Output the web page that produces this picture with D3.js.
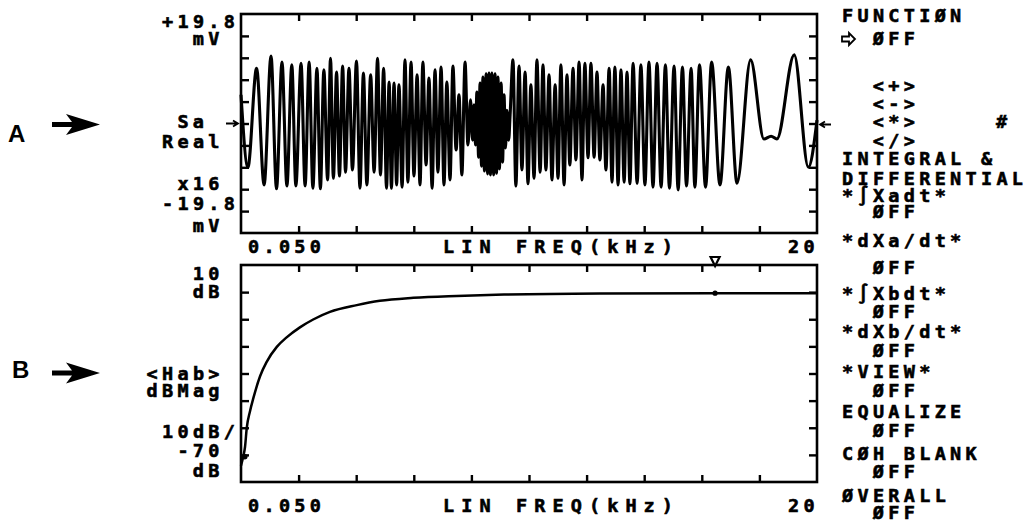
<!DOCTYPE html>
<html>
<head>
<meta charset="utf-8">
<script src="https://cdn.jsdelivr.net/npm/d3@7"></script>
<style>
  body { margin: 0; background: #fff; }
  .mono { font-family: "DejaVu Sans Mono", monospace; font-weight: bold; font-size: 18.5px; letter-spacing: 4.3px; fill: #000; stroke: #000; stroke-width: 0.6px; }
  .big { font-family: "Liberation Sans", Arial, sans-serif; font-weight: bold; font-size: 24px; fill: #000; }
</style>
</head>
<body>
<div id="chart"></div>
<script>
/** chart values */
const freqRange = [0.05, 20];          // kHz, LIN FREQ
const reRange = [-19.8, 19.8];         // mV, Sa Real x16
const magRange = [-70, 10];            // dB, <Hab> dBMag, 10 dB/div

/** extrema of the real part trace [kHz, mV] */
const reExtrema = [
  [0.05, 5.2], [0.29, -7.9], [0.59, 10.0], [0.85, -11.1], [1.09, 12.2], [1.28, -11.8],
  [1.47, 11.1], [1.64, -11.3], [1.81, 10.6], [1.95, -11.3], [2.13, 10.9], [2.27, -11.3],
  [2.41, 11.1], [2.54, -11.7], [2.68, 10.0], [2.80, -11.8], [2.92, 9.7], [3.05, -10.2],
  [3.15, 11.8], [3.25, -9.9], [3.36, 9.3], [3.46, -9.5], [3.57, 10.4], [3.67, -8.8],
  [3.79, 10.0], [3.91, -8.4], [4.05, 11.3], [4.17, -11.7], [4.29, 9.1], [4.41, -11.1],
  [4.54, 8.8], [4.66, -8.8], [4.78, 11.8], [4.88, -9.3], [4.99, 10.0], [5.09, -11.7],
  [5.18, 7.5], [5.26, -11.7], [5.35, 7.3], [5.44, -11.1], [5.52, 7.0],
  [5.63, -11.5], [5.73, 11.5], [5.83, -10.6], [5.94, 11.1], [6.04, -9.5], [6.15, 8.8],
  [6.25, -11.1], [6.35, 11.1], [6.46, -7.5], [6.56, 8.2], [6.67, -11.7], [6.77, 9.7],
  [6.87, -8.8], [6.98, 10.2], [7.08, -11.1], [7.18, 7.5], [7.29, -10.2], [7.39, 10.4],
  [7.50, -4.8], [7.60, 5.2], [7.70, -9.3], [7.81, 11.1], [7.91, -3.9], [8.00, 4.3], [8.07, -3.0],
  [8.12, 3.4], [8.17, -3.9], [8.22, 5.7], [8.28, -6.1], [8.33, 7.3], [8.38, -7.7],
  [8.43, 8.4], [8.48, -8.6], [8.54, 9.0], [8.59, -9.1], [8.64, 9.1], [8.69, -9.3],
  [8.74, 9.1], [8.80, -9.3], [8.85, 9.0], [8.90, -9.0], [8.95, 8.4], [9.00, -8.2],
  [9.06, 7.3], [9.11, -7.0], [9.16, 5.2], [9.21, -4.4], [9.26, 2.4], [9.32, -3.0], [9.37, 1.5],
  [9.47, 11.5], [9.57, -11.3], [9.68, 10.4], [9.78, -8.4], [9.89, 9.3], [9.99, -10.9],
  [10.09, 7.0], [10.20, -9.9], [10.30, 11.5], [10.41, -8.8], [10.51, 10.6], [10.61, -8.4],
  [10.72, 8.8], [10.82, -10.2], [10.93, 7.0], [11.03, -9.9], [11.13, 10.6], [11.24, -11.1],
  [11.34, 8.8], [11.44, -7.5], [11.55, 10.0], [11.65, -6.6], [11.76, 11.1], [11.86, -10.2],
  [11.96, 10.9], [12.07, -6.2], [12.17, 10.9], [12.28, -6.1], [12.38, 9.3], [12.48, -6.6],
  [12.59, 7.0], [12.69, -8.4], [12.80, 10.0], [12.90, -10.6], [13.00, 10.2], [13.11, -11.1],
  [13.21, 9.7], [13.32, -10.6], [13.42, 9.3], [13.52, -10.9], [13.63, 10.9],
  [13.77, -10.8], [13.90, 10.6], [14.04, -11.1], [14.18, 11.1], [14.32, -11.5], [14.46, 10.9],
  [14.60, -11.5], [14.75, 10.6], [14.89, -11.7], [15.05, 10.4], [15.19, -12.0], [15.34, 10.2],
  [15.48, -11.3], [15.64, 10.0], [15.77, -11.5], [15.93, 10.6], [16.14, -11.5], [16.35, 11.1],
  [16.64, -11.1], [16.93, 10.2], [17.23, -10.8], [17.70, 11.5], [18.16, -2.8], [18.41, -2.3],
  [18.61, -2.8], [19.21, 12.4], [19.70, -7.9], [20.00, 0.6]
];

/** <Hab> magnitude [kHz, dB] */
const magCurve = [
  [0.05, -64], [0.12, -61], [0.19, -57], [0.25, -50], [0.36, -44], [0.48, -39],
  [0.71, -31], [0.94, -25.7], [1.29, -20.2], [1.63, -16.7], [2.09, -13.0], [2.55, -10.1],
  [3.13, -7.3], [4.06, -4.8], [4.86, -3.2], [6.02, -2.1], [7.52, -1.4], [9.25, -0.9],
  [12.48, -0.5], [16.47, -0.4], [20, -0.4]
];
const markerPoint = [16.47, -0.4];
const startPoint = [0.18, -60.7];

/** texts */
const xEndLabels = ['0.050', '20'];
const xTitle = 'LIN FREQ(kHz)';
const topLeftText = ['+19.8', 'mV', 'Sa', 'Real', 'x16', '-19.8', 'mV'];
const botLeftText = ['10', 'dB', '<Hab>', 'dBMag', '10dB/', '-70', 'dB'];
const menuText = ['FUNCTIØN', 'ØFF', '<+>', '<->', '<*>', '</>', 'INTEGRAL &', 'DIFFERENTIAL',
  '*∫Xadt*', 'ØFF', '*dXa/dt*', 'ØFF', '*∫Xbdt*', 'ØFF', '*dXb/dt*', 'ØFF', '*VIEW*', 'ØFF',
  'EQUALIZE', 'ØFF', 'CØH BLANK', 'ØFF', 'ØVERALL', 'ØFF'];

/** layout */
const W = 1026, H = 520;
const plotX = [241, 817];
const topY = [14, 233], botY = [265, 482];
const cell = 15.4;

const svg = d3.select('#chart').append('svg')
    .attr('width', W)
    .attr('height', H);

const x = d3.scaleLinear().domain(freqRange).range(plotX);
const yRe = d3.scaleLinear().domain(reRange).range([topY[1], topY[0]]);
const yMag = d3.scaleLinear().domain(magRange).range([botY[1], botY[0]]);

const xDiv = d3.range(1, 10).map(i => freqRange[0] + i * (freqRange[1] - freqRange[0]) / 10);
const reDiv = d3.range(1, 10).map(i => reRange[0] + i * (reRange[1] - reRange[0]) / 10);
const magDiv = d3.range(1, 8).map(i => magRange[0] + i * 10);

/** frame with inward ticks on all sides */
function drawFrame(y, yTicks, y0, y1) {
    const g = svg.append('g');
    const parts = [
        [d3.axisTop(x).tickValues(xDiv).tickSize(-7), `translate(0,${y0})`],
        [d3.axisBottom(x).tickValues(xDiv).tickSize(-7), `translate(0,${y1})`],
        [d3.axisLeft(y).tickValues(yTicks).tickSize(-8), `translate(${plotX[0]},0)`],
        [d3.axisRight(y).tickValues(yTicks).tickSize(-8), `translate(${plotX[1]},0)`]
    ];
    parts.forEach(p => {
        const a = g.append('g').attr('transform', p[1])
            .call(p[0].tickSizeOuter(0).tickFormat(''));
        a.select('.domain').remove();
        a.selectAll('line').attr('stroke', '#000').attr('stroke-width', 2.4);
    });
    g.append('rect')
        .attr('x', plotX[0]).attr('y', y0)
        .attr('width', plotX[1] - plotX[0]).attr('height', y1 - y0)
        .attr('fill', 'none').attr('stroke', '#000').attr('stroke-width', 2.6);
}
drawFrame(yRe, reDiv, topY[0], topY[1]);
drawFrame(yMag, magDiv, botY[0], botY[1]);

/** traces */
const reLine = d3.line()
    .x(d => x(d[0]))
    .y(d => yRe(d[1]))
    .curve(d3.curveMonotoneX);
svg.append('path')
    .datum(reExtrema)
    .attr('d', reLine)
    .attr('fill', 'none')
    .attr('stroke', '#000')
    .attr('stroke-width', 3.1)
    .attr('stroke-linejoin', 'round');

const magLine = d3.line()
    .x(d => x(d[0]))
    .y(d => yMag(d[1]))
    .curve(d3.curveMonotoneX);
svg.append('path')
    .datum(magCurve)
    .attr('d', magLine)
    .attr('fill', 'none')
    .attr('stroke', '#000')
    .attr('stroke-width', 2.5);

/** markers */
const mx = x(markerPoint[0]);
svg.append('circle').attr('cx', mx).attr('cy', yMag(markerPoint[1])).attr('r', 2.6).attr('fill', '#000');
svg.append('path')
    .attr('d', `M${mx - 4.5},${botY[0] - 8} L${mx + 4.5},${botY[0] - 8} L${mx},${botY[0] + 1} Z`)
    .attr('fill', '#fff').attr('stroke', '#000').attr('stroke-width', 2.2);
svg.append('circle').attr('cx', x(startPoint[0])).attr('cy', yMag(startPoint[1])).attr('r', 2.8).attr('fill', '#000');

/** axis texts */
[topY[1] + 20, botY[1] + 30].forEach(b => {
    svg.append('text').attr('class', 'mono').attr('x', plotX[0] + 7).attr('y', b).text(xEndLabels[0]);
    svg.append('text').attr('class', 'mono').attr('x', plotX[1] - 29).attr('y', b).text(xEndLabels[1]);
    svg.append('text').attr('class', 'mono').attr('x', 443).attr('y', b)
        .style('letter-spacing', '7.1px').text(xTitle);
});

const colX = c => 162 + c * cell;
const topLeftCol = [0, 2, 1, 0, 1, 0, 2];
const topLeftBase = [28, 45, 128, 148, 190, 210, 232];
topLeftText.forEach((t, i) => {
    svg.append('text').attr('class', 'mono').attr('x', colX(topLeftCol[i])).attr('y', topLeftBase[i]).text(t);
});
const botLeftCol = [2, 2, -1, -1, 0, 1, 2];
const botLeftBase = [280, 298, 380, 397, 438, 457, 477];
botLeftText.forEach((t, i) => {
    svg.append('text').attr('class', 'mono').attr('x', colX(botLeftCol[i])).attr('y', botLeftBase[i]).text(t);
});

/** softkey menu */
const menuCol = [0, 2, 2, 2, 2, 2, 0, 0, 0, 2, 0, 2, 0, 2, 0, 2, 0, 2, 0, 2, 0, 2, 0, 2];
const menuBase = [22, 45, 92, 110, 128, 147, 165, 185, 202, 218, 247, 274, 300, 318, 338, 357,
    378, 397, 418, 437, 460, 478, 502, 519];
menuText.forEach((t, i) => {
    svg.append('text').attr('class', 'mono').attr('x', 842 + menuCol[i] * cell).attr('y', menuBase[i]).text(t);
});
svg.append('text').attr('class', 'mono').attr('x', 842 + 10 * cell).attr('y', 128).text('#');

/** hollow pointer in front of the FUNCTION state */
svg.append('path')
    .attr('d', 'M842,36.5 L849,36.5 L849,33 L855,39 L849,45 L849,41.5 L842,41.5 Z')
    .attr('fill', '#fff').attr('stroke', '#000').attr('stroke-width', 1.8);

/** small reference arrows at trace centre */
const cy = yRe(0);
svg.append('path').attr('d', `M226,${cy} L238,${cy} M233,${cy - 3} L238,${cy} L233,${cy + 3}`)
    .attr('fill', 'none').attr('stroke', '#000').attr('stroke-width', 1.8);
svg.append('path').attr('d', `M831,${cy + 1} L820,${cy + 1} M825,${cy - 2} L820,${cy + 1} L825,${cy + 4}`)
    .attr('fill', 'none').attr('stroke', '#000').attr('stroke-width', 1.8);

/** A / B callouts */
function bigArrow(yc) {
    svg.append('path')
        .attr('d', `M52,${yc - 2.5} L72,${yc - 2.5} L66,${yc - 10.5} L100,${yc} L66,${yc + 10.5} L72,${yc + 2.5} L52,${yc + 2.5} Z`)
        .attr('fill', '#000');
}
svg.append('text').attr('class', 'big').attr('x', 8).attr('y', 142).text('A');
bigArrow(124.5);
svg.append('text').attr('class', 'big').attr('x', 12).attr('y', 378).text('B');
bigArrow(373);
</script>
</body>
</html>
